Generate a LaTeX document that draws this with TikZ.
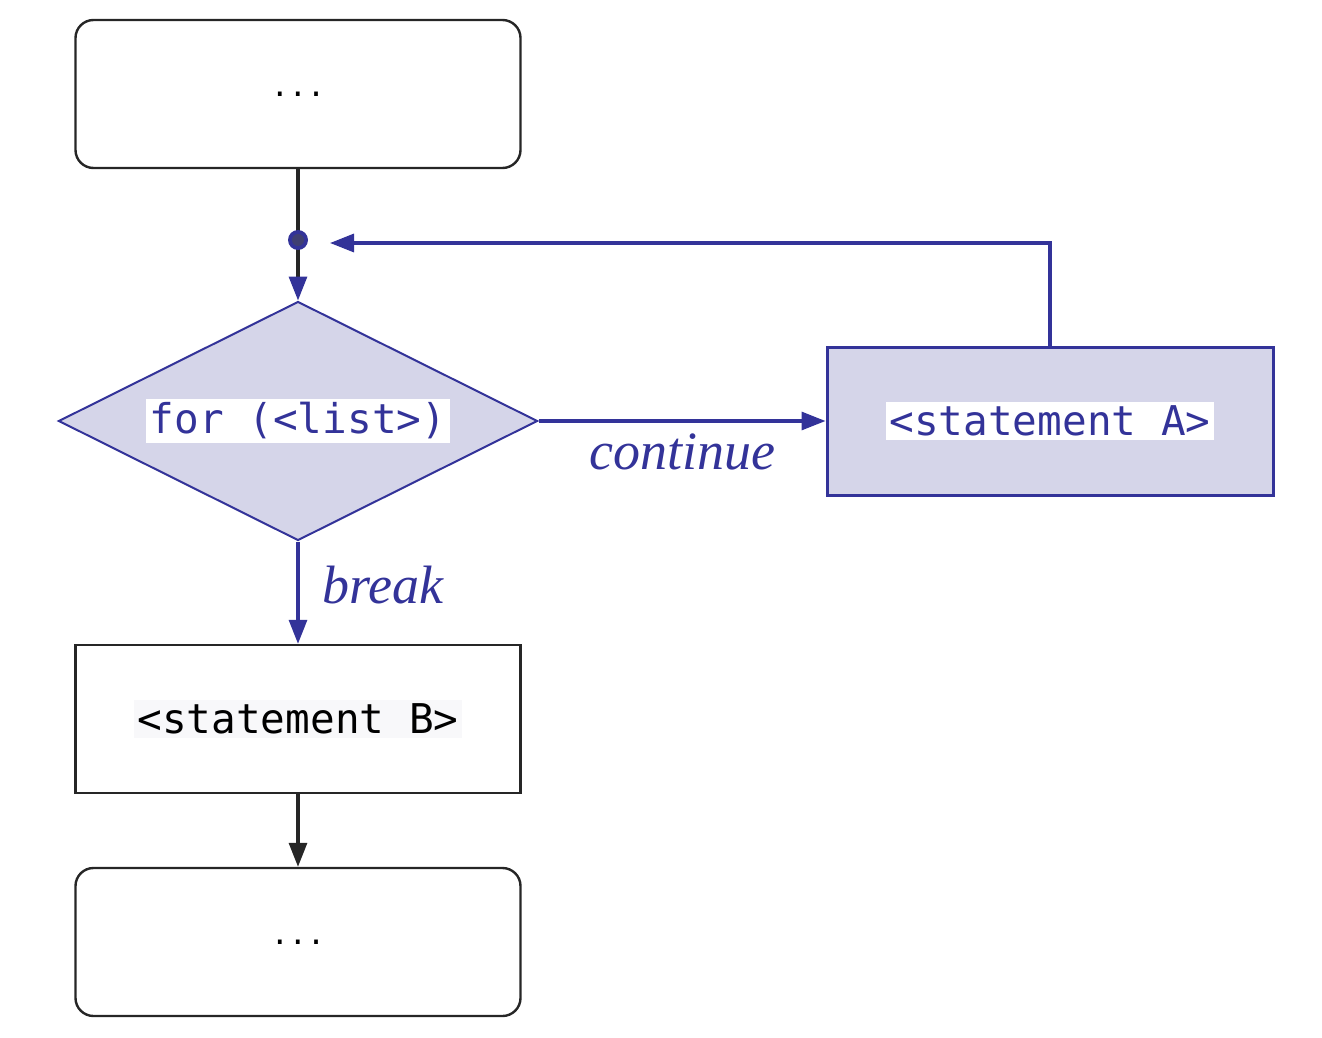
\documentclass[tikz,border=0pt]{standalone}
\usepackage{fontspec}
\setmonofont{DejaVu Sans Mono}
\newfontfamily\labfont{Liberation Serif}
\usetikzlibrary{shapes.geometric,arrows.meta}
\definecolor{bl}{RGB}{51,51,153}
\definecolor{lav}{RGB}{213,213,233}
\definecolor{tbg}{RGB}{248,248,250}
\begin{document}
\begin{tikzpicture}[x=0.5pt,y=-0.5pt,
 box/.style={draw=black!85,line width=1.2pt,minimum width=222.5pt,minimum height=74pt,inner sep=0},
 rbox/.style={box,rounded corners=9pt},
 code/.style={font=\ttfamily\fontsize{20.5}{22}\selectfont,fill=tbg,inner sep=2pt},
 lab/.style={font=\labfont\itshape\fontsize{27}{29}\selectfont,text=bl},
 arr/.style={-{Triangle[length=12pt,width=9pt]},line width=1.6pt}]
\useasboundingbox (0,0) rectangle (1322,1038);
\node[rbox] (top) at (298,94) {\ttfamily\fontsize{15}{16}\selectfont ...};
\coordinate (dot) at (298,240);
\node[draw=bl,fill=lav,line width=1pt,diamond,aspect=2,minimum width=239.5pt,minimum height=119.5pt,inner sep=0] (d) at (298,421) {};
\node[code,text=bl,fill=white] at (d) {for (<list>)};
\node[box,draw=bl,fill=lav,line width=1.5pt,minimum width=223pt] (a) at (1050,421) {};
\node[code,text=bl,fill=white] at (a) {<statement A>};
\node[box] (b) at (298,719) {};
\node[code,text=black] at (b) {<statement B>};
\node[rbox] (bot) at (298,942) {\ttfamily\fontsize{15}{16}\selectfont ...};
\coordinate (ret) at (330,243);
\draw[line width=1.6pt,black!85] (top.south) -- (298,290);
\draw[arr,draw=bl,fill=bl] (298,285) -- (d.north);
\fill[bl] (dot) circle (5pt);
\fill[black!70,opacity=.5] (dot) circle (3pt);
\draw[arr,bl] (d.east) -- (a.west) node[midway,below=2pt,lab] {continue};
\draw[arr,bl] (a.north) |- (ret);
\draw[arr,bl] (d.south) -- (b.north) node[midway,right=8pt,lab,yshift=4pt] {break};
\draw[arr,black!85] (b.south) -- (bot.north);
\end{tikzpicture}
\end{document}
